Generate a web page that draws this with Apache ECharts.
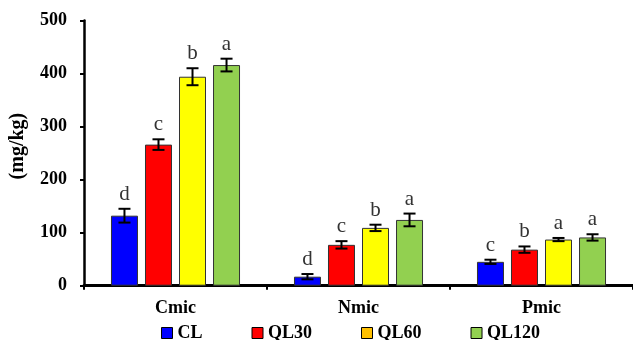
<!DOCTYPE html>
<html>
<head>
<meta charset="utf-8">
<script src="https://cdn.jsdelivr.net/npm/echarts@6/dist/echarts.min.js"></script>
<style>html,body{margin:0;padding:0;background:#fff;}#c{width:633px;height:340px;}</style>
</head>
<body>
<div id="c"></div>
<script>
var categories = ['Cmic', 'Nmic', 'Pmic'];
var treatments = ['CL', 'QL30', 'QL60', 'QL120'];
var CL = [132, 17, 45];
var CL_err = [13, 5, 4];
var CL_letters = ['d', 'd', 'c'];
var QL30 = [266, 77, 68];
var QL30_err = [10, 7, 6];
var QL30_letters = ['c', 'c', 'b'];
var QL60 = [394, 109, 87];
var QL60_err = [16, 6, 3];
var QL60_letters = ['b', 'b', 'a'];
var QL120 = [416, 124, 91];
var QL120_err = [12, 12, 6];
var QL120_letters = ['a', 'a', 'a'];
var yTicks = [0, 100, 200, 300, 400, 500];

var values = [CL, QL30, QL60, QL120];
var errs = [CL_err, QL30_err, QL60_err, QL120_err];
var letters = [CL_letters, QL30_letters, QL60_letters, QL120_letters];
var barColors = ['#0000FF', '#FF0000', '#FFFF00', '#92D050'];
var legendColors = ['#0000FF', '#FF0000', '#FFC000', '#92D050'];
var FONT = "'Liberation Serif', 'Times New Roman', serif";
var BAR_W = 27, BAR_GAP = '26%';

var chart = echarts.init(document.getElementById('c'), null, {renderer: 'canvas'});
var series = [];
treatments.forEach(function (name, i) {
  series.push({
    name: name,
    type: 'bar',
    barWidth: BAR_W,
    barGap: BAR_GAP,
    data: values[i],
    itemStyle: {color: barColors[i], borderColor: '#333', borderWidth: 1},
    z: 2
  });
});
treatments.forEach(function (name, i) {
  series.push({
    type: 'custom',
    name: name + '_err',
    z: 5,
    data: values[i].map(function (v, k) { return [k, v, errs[i][k]]; }),
    renderItem: function (params, api) {
      var k = api.value(0), v = api.value(1), e = api.value(2);
      var letter = letters[i][params.dataIndex];
      var layout = api.barLayout({barWidth: BAR_W, barGap: BAR_GAP, count: treatments.length});
      var off = layout[i].offsetCenter;
      var top = api.coord([k, v + e]);
      var bot = api.coord([k, v - e]);
      var x = top[0] + off;
      var cap = 6;
      var st = {stroke: '#000', lineWidth: 2};
      return {
        type: 'group',
        children: [
          {type: 'line', shape: {x1: x, y1: top[1], x2: x, y2: bot[1]}, style: st},
          {type: 'line', shape: {x1: x - cap, y1: top[1], x2: x + cap, y2: top[1]}, style: st},
          {type: 'line', shape: {x1: x - cap, y1: bot[1], x2: x + cap, y2: bot[1]}, style: st},
          {type: 'text', x: x, y: top[1] - 4, style: {text: letter, fill: '#333', font: '21px ' + FONT, textAlign: 'center', textVerticalAlign: 'bottom'}}
        ]
      };
    }
  });
});

chart.setOption({
  animation: false,
  backgroundColor: '#fff',
  grid: {left: 80, right: -8, top: 20.5, bottom: 54.3, containLabel: false},
  legend: {
    left: 156, top: 319,
    itemWidth: 11, itemHeight: 11, itemGap: 49,
    icon: 'rect',
    textStyle: {fontFamily: FONT, fontWeight: 'bold', fontSize: 18, color: '#000'},
    data: treatments.map(function (t, i) {
      return {name: t, itemStyle: {color: legendColors[i], borderColor: '#000', borderWidth: 1}};
    })
  },
  xAxis: {
    type: 'category',
    data: categories,
    axisLine: {lineStyle: {color: '#000', width: 3}},
    axisTick: {show: true, length: 4, lineStyle: {color: '#000', width: 2}},
    axisLabel: {fontFamily: FONT, fontWeight: 'bold', fontSize: 18, color: '#000', margin: 14}
  },
  yAxis: {
    type: 'value',
    min: yTicks[0], max: yTicks[yTicks.length - 1], interval: 100,
    name: '(mg/kg)',
    nameLocation: 'middle',
    nameGap: 56,
    nameTextStyle: {fontFamily: FONT, fontWeight: 'bold', fontSize: 20, color: '#000', padding: [0, 0, 0, 14]},
    axisLine: {show: true, lineStyle: {color: '#000', width: 2.5}},
    axisTick: {show: true, length: 4, lineStyle: {color: '#000', width: 2}},
    splitLine: {show: false},
    axisLabel: {fontFamily: FONT, fontWeight: 'bold', fontSize: 18, color: '#000', margin: 17}
  },
  series: series
});
</script>
</body>
</html>
